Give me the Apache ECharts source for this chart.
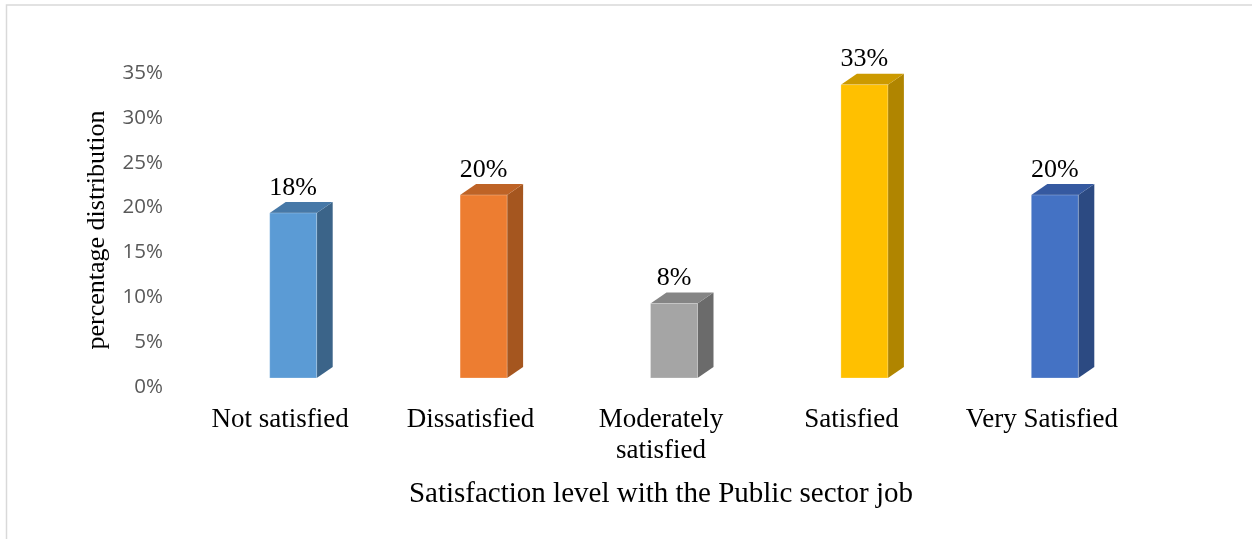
<!DOCTYPE html>
<html><head><meta charset="utf-8">
<script src="https://cdn.jsdelivr.net/npm/echarts@6/dist/echarts.min.js"></script>
<style>html,body{margin:0;padding:0;background:#fff}#c{width:1252px;height:539px}</style>
</head><body><div id="c"></div>
<script>
const categories = ['Not satisfied', 'Dissatisfied', 'Moderately\nsatisfied', 'Satisfied', 'Very Satisfied'];
const values = [18.4, 20.4, 8.3, 32.7, 20.4];
const frontColors = ['#5B9BD5', '#ED7D31', '#A5A5A5', '#FFC000', '#4472C4'];
const sideColors = ['#3B6489', '#A5561F', '#6B6B6B', '#B08500', '#2C4A82'];
const topColors = ['#4678A7', '#BE6326', '#858585', '#CC9A00', '#3559A0'];
const yTicks = [0, 5, 10, 15, 20, 25, 30, 35];

const chart = echarts.init(document.getElementById('c'), null, {renderer: 'canvas'});
const FW = 47, DX = 16, DY = -11, SHIFT_X = 13, SHIFT_Y = -9;
chart.setOption({
  animation: false,
  graphic: [{type: 'rect', shape: {x: 6.5, y: 5, width: 1260, height: 560}, style: {fill: 'none', stroke: '#D9D9D9', lineWidth: 1.5}, silent: true}],
  grid: {left: 185, right: 115, top: 73, bottom: 152},
  xAxis: {
    type: 'category', data: categories,
    axisLine: {show: false}, axisTick: {show: false},
    axisLabel: {color: '#000', fontFamily: 'Liberation Serif', fontSize: 27, margin: 17, lineHeight: 31, interval: 0},
    name: 'Satisfaction level with the Public sector job', nameLocation: 'middle', nameGap: 93,
    nameTextStyle: {color: '#000', fontFamily: 'Liberation Serif', fontSize: 29}
  },
  yAxis: {
    type: 'value', min: yTicks[0], max: yTicks[yTicks.length - 1], interval: yTicks[1] - yTicks[0],
    splitLine: {show: false}, axisLine: {show: false}, axisTick: {show: false},
    axisLabel: {color: '#595959', fontFamily: 'Open Sans', fontSize: 20.5, margin: 22, formatter: v => v + '%'},
    name: 'percentage distribution', nameLocation: 'middle', nameGap: 75, nameRotate: 90,
    nameTextStyle: {color: '#000', fontFamily: 'Liberation Serif', fontSize: 26}
  },
  series: [{
    type: 'custom',
    data: values.map((v, i) => [i, v]),
    renderItem: function (params, api) {
      const i = api.value(0), v = api.value(1);
      const p0 = api.coord([i, 0]);
      const p1 = api.coord([i, v]);
      const x0 = p0[0] + SHIFT_X - FW / 2, x1 = x0 + FW;
      const yb = p0[1] + SHIFT_Y, yt = p1[1] + SHIFT_Y;
      return {
        type: 'group',
        children: [
          {type: 'polygon', shape: {points: [[x1, yb], [x1 + DX, yb + DY], [x1 + DX, yt + DY], [x1, yt]]}, style: {fill: sideColors[i]}},
          {type: 'polygon', shape: {points: [[x0, yt], [x1, yt], [x1 + DX, yt + DY], [x0 + DX, yt + DY]]}, style: {fill: topColors[i]}},
          {type: 'rect', shape: {x: x0, y: yt, width: FW, height: yb - yt}, style: {fill: frontColors[i], stroke: 'rgba(255,255,255,0.25)', lineWidth: 1}},
          {type: 'text', style: {text: Math.round(v) + '%', x: (x0 + x1) / 2, y: yt - 12, align: 'center', verticalAlign: 'bottom', font: '26px "Liberation Serif"', fill: '#000'}}
        ]
      };
    }
  }]
});
</script></body></html>
